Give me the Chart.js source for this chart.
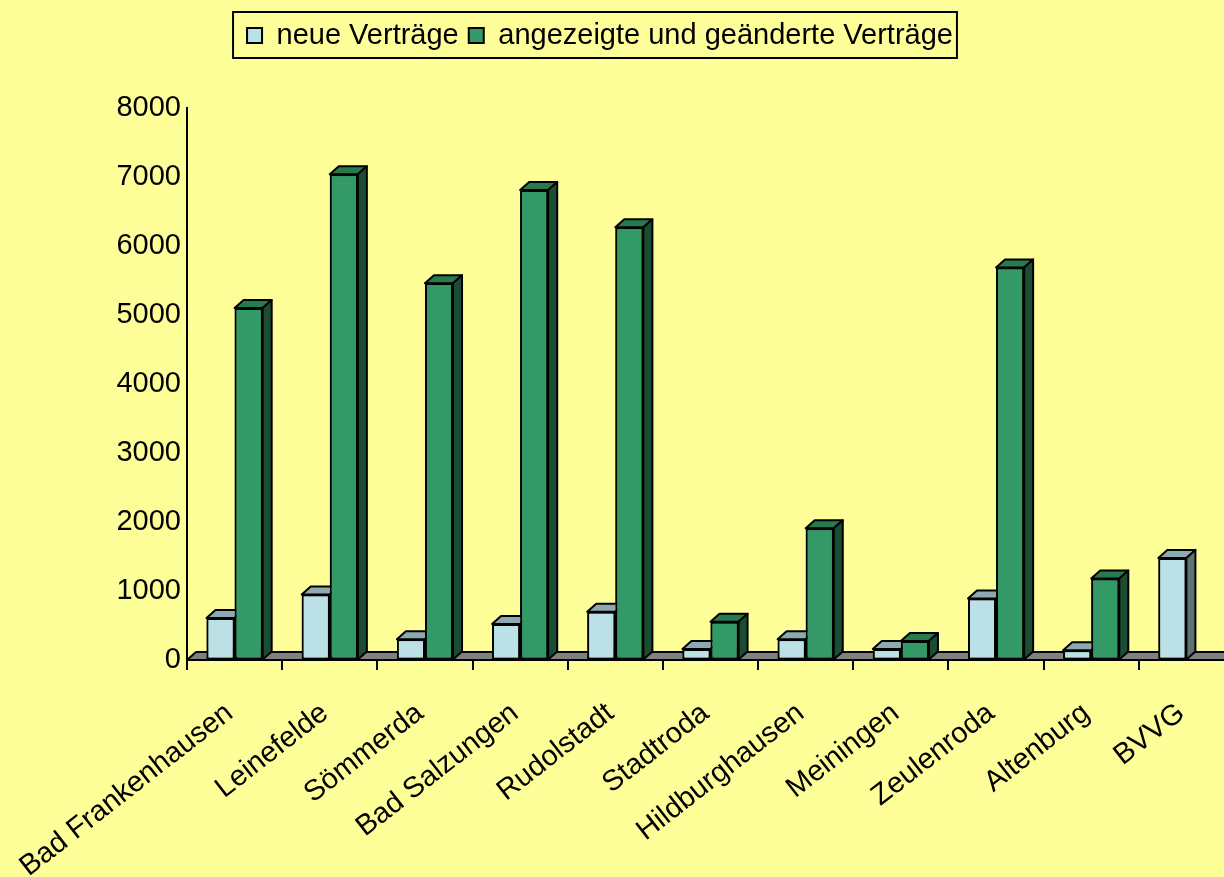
<!DOCTYPE html>
<html>
<head>
<meta charset="utf-8">
<script src="https://cdn.jsdelivr.net/npm/chart.js@4.4.0/dist/chart.umd.min.js"></script>
<style>
  html, body { margin: 0; padding: 0; background: #FFFF99; overflow: hidden; width: 1224px; height: 877px; }
  #wrap { position: relative; width: 1240px; height: 877px; }
  canvas { display: block; }
</style>
</head>
<body>
<div id="wrap"><canvas id="c" width="1240" height="877" style="width:1240px;height:877px"></canvas></div>
<script>
// ---- data ----
const categories = ['Bad Frankenhausen', 'Leinefelde', 'Sömmerda', 'Bad Salzungen', 'Rudolstadt',
  'Stadtroda', 'Hildburghausen', 'Meiningen', 'Zeulenroda', 'Altenburg', 'BVVG'];
const neueVertraege = [610, 950, 300, 520, 700, 160, 300, 160, 890, 140, 1480];
const geaenderteVertraege = [5100, 7040, 5460, 6810, 6270, 555, 1910, 275, 5690, 1180, null];
const seriesNames = ['neue Verträge', 'angezeigte und geänderte Verträge'];
const yTickLabels = ['0', '1000', '2000', '3000', '4000', '5000', '6000', '7000', '8000'];
const yMin = 0, yMax = 8000, yStep = 1000;

// ---- styles ----
const DX = 9, DY = 8;
const faceColors = [
  { front: '#BBE0E5', top: '#8EAAB1', side: '#5E7373' },
  { front: '#339966', top: '#267A4E', side: '#1B4D33' }
];
const FONT = "'Liberation Sans', Arial, sans-serif";
Chart.defaults.font.family = FONT;
Chart.defaults.color = '#000';

const legendFit = {
  id: 'legendFit',
  beforeInit(chart) {
    const orig = chart.legend.fit;
    chart.legend.fit = function () { orig.bind(chart.legend)(); this.height = 97; };
  },
  afterLayout(chart) {
    const lg = chart.legend;
    lg.left -= 17; lg.right -= 17;
  },
  afterDraw(chart) {
    const hb = chart.legend.legendHitBoxes;
    if (!hb || !hb.length) return;
    const ctx = chart.ctx;
    const first = hb[0], last = hb[hb.length - 1];
    ctx.save();
    ctx.strokeStyle = '#000';
    ctx.lineWidth = 2;
    ctx.strokeRect(first.left - 14, first.top - 9, (last.left + last.width + 4) - (first.left - 14), first.height + 17);
    ctx.restore();
  }
};

function drawFaces(ctx, bar, col) {
  const p = bar.getProps(['x', 'y', 'base', 'width'], true);
  const x0 = p.x - p.width / 2, x1 = p.x + p.width / 2;
  const yt = p.y, yb = p.base;
  ctx.beginPath();
  ctx.moveTo(x0, yt); ctx.lineTo(x0 + DX, yt - DY); ctx.lineTo(x1 + DX, yt - DY); ctx.lineTo(x1, yt);
  ctx.closePath();
  ctx.fillStyle = col.top; ctx.fill(); ctx.stroke();
  ctx.beginPath();
  ctx.moveTo(x1, yt); ctx.lineTo(x1 + DX, yt - DY); ctx.lineTo(x1 + DX, yb - DY); ctx.lineTo(x1, yb);
  ctx.closePath();
  ctx.fillStyle = col.side; ctx.fill(); ctx.stroke();
}

const depth3d = {
  id: 'depth3d',
  beforeDatasetsDraw(chart) {
    const ctx = chart.ctx, a = chart.chartArea;
    const y0 = chart.scales.y.getPixelForValue(0);
    ctx.save();
    ctx.beginPath();
    ctx.moveTo(a.left, y0);
    ctx.lineTo(a.left + DX, y0 - DY);
    ctx.lineTo(a.right + 40, y0 - DY);
    ctx.lineTo(a.right + 40, y0);
    ctx.closePath();
    ctx.fillStyle = '#808080';
    ctx.fill();
    ctx.lineWidth = 2;
    ctx.strokeStyle = '#000';
    ctx.lineJoin = 'round';
    ctx.stroke();
    ctx.restore();
  },
  afterDatasetsDraw(chart) {
    // redraw bars category by category, series by series, so depth faces overlap correctly
    const ctx = chart.ctx;
    const metas = chart.data.datasets.map((d, i) => chart.getDatasetMeta(i));
    ctx.save();
    chart.data.labels.forEach((lab, i) => {
      metas.forEach((meta, di) => {
        const v = chart.data.datasets[di].data[i];
        if (v === null || v === undefined || v === 0) return;
        const bar = meta.data[i];
        ctx.save();
        bar.draw(ctx, chart.chartArea);
        ctx.restore();
        ctx.lineWidth = 2;
        ctx.strokeStyle = '#000';
        ctx.lineJoin = 'round';
        drawFaces(ctx, bar, faceColors[di]);
      });
    });
    ctx.restore();
  }
};

new Chart(document.getElementById('c'), {
  type: 'bar',
  data: {
    labels: categories,
    datasets: [
      { label: seriesNames[0], data: neueVertraege, backgroundColor: faceColors[0].front,
        borderColor: '#000', borderWidth: 2, borderSkipped: false },
      { label: seriesNames[1], data: geaenderteVertraege, backgroundColor: faceColors[1].front,
        borderColor: '#000', borderWidth: 2, borderSkipped: false }
    ]
  },
  options: {
    responsive: false,
    animation: false,
    devicePixelRatio: 1,
    datasets: { bar: { categoryPercentage: 0.59, barPercentage: 1.0 } },
    layout: { padding: { top: 11, left: 0, right: 6, bottom: 0 } },
    plugins: {
      legend: {
        display: true,
        position: 'top',
        labels: { font: { size: 29, family: FONT }, color: '#000', boxWidth: 15, boxHeight: 15, padding: 10 }
      },
      tooltip: { enabled: false },
      title: { display: false }
    },
    scales: {
      x: {
        grid: { display: true, drawOnChartArea: false, drawTicks: true, tickLength: 10, color: '#000', lineWidth: 2, offset: true },
        border: { display: true, color: '#000', width: 2 },
        ticks: { autoSkip: false, minRotation: 38, maxRotation: 38, padding: 26, labelOffset: -5,
          font: { size: 29, family: FONT }, color: '#000' },
        afterFit(s) { s.height = 217; s.paddingLeft = 0; s.paddingRight = 0; }
      },
      y: {
        min: yMin, max: yMax,
        grid: { display: true, drawOnChartArea: false, drawTicks: false },
        border: { display: true, color: '#000', width: 2 },
        ticks: { stepSize: yStep, padding: 6, font: { size: 29, family: FONT }, color: '#000',
          callback: (v, i) => yTickLabels[i] },
        afterFit(s) { s.width = 187; }
      }
    }
  },
  plugins: [legendFit, depth3d]
});
</script>
</body>
</html>
